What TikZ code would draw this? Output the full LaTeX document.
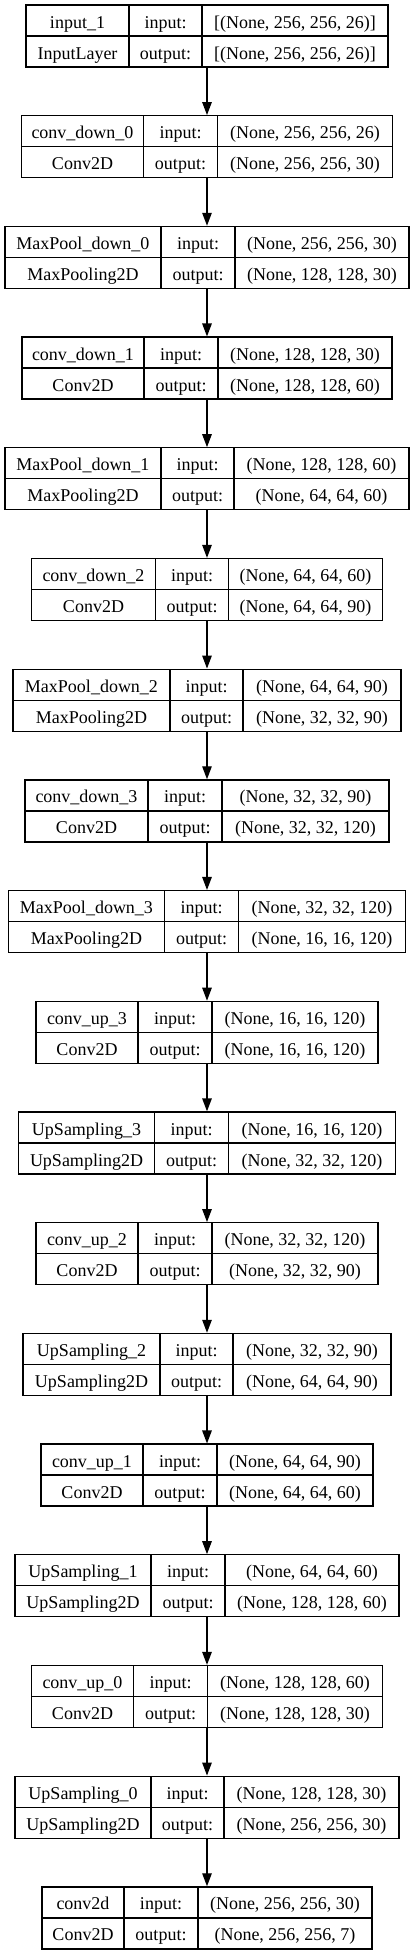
\documentclass[tikz,border=0pt]{standalone}
\usepackage{fontspec}
\setmainfont{Liberation Serif}
\usetikzlibrary{arrows.meta}

\begin{document}
\begin{tikzpicture}[x=1pt,y=-1pt,
		layerbox/.style={draw,line width=1.3pt,minimum height=62pt,inner sep=0pt},
		sep/.style={line width=1.3pt},
		flow/.style={line width=1.3pt,-{Triangle[length=13pt,width=9.5pt]}},
		lbl/.style={inner sep=0pt,anchor=base,font=\fontsize{18}{21}\selectfont}]
	\useasboundingbox (0,0) rectangle (415,1955);
	% one record per layer: name / class / input / output / widths of the three columns
	\foreach \k/\nm/\cls/\inp/\outp/\wa/\wb/\wc in {
			0/input\_1/InputLayer/{[(None, 256, 256, 26)]}/{[(None, 256, 256, 26)]}/103/73/186,
			1/conv\_down\_0/Conv2D/{(None, 256, 256, 26)}/{(None, 256, 256, 30)}/122/74/175,
			2/MaxPool\_down\_0/MaxPooling2D/{(None, 256, 256, 30)}/{(None, 128, 128, 30)}/156/74/174,
			3/conv\_down\_1/Conv2D/{(None, 128, 128, 30)}/{(None, 128, 128, 60)}/122/74/174,
			4/MaxPool\_down\_1/MaxPooling2D/{(None, 128, 128, 60)}/{(None, 64, 64, 60)}/156/73/175,
			5/conv\_down\_2/Conv2D/{(None, 64, 64, 60)}/{(None, 64, 64, 90)}/124/73/154,
			6/MaxPool\_down\_2/MaxPooling2D/{(None, 64, 64, 90)}/{(None, 32, 32, 90)}/157/73/158,
			7/conv\_down\_3/Conv2D/{(None, 32, 32, 90)}/{(None, 32, 32, 120)}/123/74/167,
			8/MaxPool\_down\_3/MaxPooling2D/{(None, 32, 32, 120)}/{(None, 16, 16, 120)}/156/74/167,
			9/conv\_up\_3/Conv2D/{(None, 16, 16, 120)}/{(None, 16, 16, 120)}/102/74/166,
			10/UpSampling\_3/UpSampling2D/{(None, 16, 16, 120)}/{(None, 32, 32, 120)}/136/74/167,
			11/conv\_up\_2/Conv2D/{(None, 32, 32, 120)}/{(None, 32, 32, 90)}/102/74/166,
			12/UpSampling\_2/UpSampling2D/{(None, 32, 32, 90)}/{(None, 64, 64, 90)}/137/73/158,
			13/conv\_up\_1/Conv2D/{(None, 64, 64, 90)}/{(None, 64, 64, 60)}/102/74/156,
			14/UpSampling\_1/UpSampling2D/{(None, 64, 64, 60)}/{(None, 128, 128, 60)}/136/74/174,
			15/conv\_up\_0/Conv2D/{(None, 128, 128, 60)}/{(None, 128, 128, 30)}/102/74/175,
			16/UpSampling\_0/UpSampling2D/{(None, 128, 128, 30)}/{(None, 256, 256, 30)}/136/73/175,
			17/conv2d/Conv2D/{(None, 256, 256, 30)}/{(None, 256, 256, 7)}/82/74/174}{
		\pgfmathsetmacro\ytop{5+110.7*\k}
		\pgfmathsetmacro\xl{207-(\wa+\wb+\wc)/2}
		\pgfmathsetmacro\xa{\xl+\wa}
		\pgfmathsetmacro\xb{\xa+\wb}
		\pgfmathsetmacro\xr{\xb+\wc}
		\node[layerbox,minimum width={(\wa+\wb+\wc)*1pt}] (L\k) at (207,\ytop+31) {};
		\draw[sep] (\xa,\ytop) -- (\xa,\ytop+62) (\xb,\ytop) -- (\xb,\ytop+62)
			(\xl,\ytop+31) -- (\xr,\ytop+31);
		\node[lbl] (L\k-nm) at ({(\xl+\xa)/2},\ytop+23) {\nm};
		\node[lbl] (L\k-cls) at ({(\xl+\xa)/2},\ytop+54) {\cls};
		\node[lbl] (L\k-ik) at ({(\xa+\xb)/2},\ytop+23) {input:};
		\node[lbl] (L\k-ok) at ({(\xa+\xb)/2},\ytop+54) {output:};
		\node[lbl] (L\k-in) at ({(\xb+\xr)/2},\ytop+23) {\inp};
		\node[lbl] (L\k-out) at ({(\xb+\xr)/2},\ytop+54) {\outp};
	}
	\foreach \k [evaluate=\k as \n using int(\k+1)] in {0,...,16}
		\draw[flow] (L\k.south) -- (L\n.north);
\end{tikzpicture}
\end{document}
